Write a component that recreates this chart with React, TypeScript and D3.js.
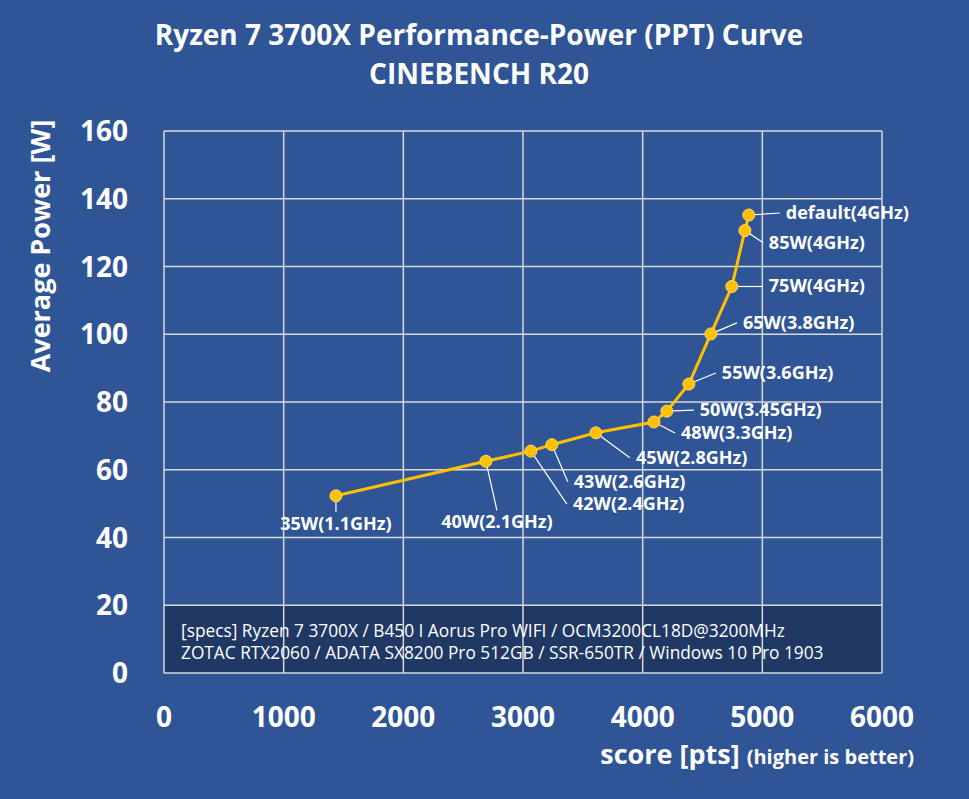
import React from 'react';
import * as d3 from 'd3';

const labels = ['35W(1.1GHz)', '40W(2.1GHz)', '42W(2.4GHz)', '43W(2.6GHz)', '45W(2.8GHz)', '48W(3.3GHz)', '50W(3.45GHz)', '55W(3.6GHz)', '65W(3.8GHz)', '75W(4GHz)', '85W(4GHz)', 'default(4GHz)'];
const scores = [1437, 2690, 3066, 3241, 3609, 4094, 4202, 4386, 4570, 4745, 4854, 4887];
const power = [52.3, 62.5, 65.5, 67.4, 70.9, 74.1, 77.3, 85.3, 100.1, 114.1, 130.6, 135.2];
const xTicks = [0, 1000, 2000, 3000, 4000, 5000, 6000];
const yTicks = [0, 20, 40, 60, 80, 100, 120, 140, 160];
// label placement relative to point: [dx end of leader, dy end, text anchor]
const labelOffsets: [number, number, string][] = [
  [0, 16, 'middle'], [11, 49, 'middle'], [36, 53, 'start'], [16, 37, 'start'],
  [34, 25, 'start'], [21, 11, 'start'], [27, -1, 'start'], [27, -11, 'start'],
  [26, -11, 'start'], [31, 0, 'start'], [18, 12, 'start'], [31, -2, 'start'],
];

export default function App() {
  const W = 969, H = 799;
  const m = { left: 164, right: 882, top: 131, bottom: 673 };
  const x = d3.scaleLinear().domain([0, 6000]).range([m.left, m.right]);
  const y = d3.scaleLinear().domain([0, 160]).range([m.bottom, m.top]);
  const line = d3.line<number>().x((_, i) => x(scores[i])).y(d => y(d));
  const font = "'Open Sans', 'DejaVu Sans', sans-serif";
  return (
    <svg width={W} height={H} style={{ position: 'absolute', left: 0, top: 0 }} fontFamily={font}>
      <rect width={W} height={H} fill="#2f5597" />
      <text x={479} y={45} textAnchor="middle" fill="white" fontWeight="bold" fontSize={28}>Ryzen 7 3700X Performance-Power (PPT) Curve</text>
      <text x={479} y={84} textAnchor="middle" fill="white" fontWeight="bold" fontSize={28}>CINEBENCH R20</text>
      <rect x={m.left} y={y(20)} width={m.right - m.left} height={y(0) - y(20)} fill="#203864" />
      {xTicks.map(t => <line key={'x' + t} x1={x(t)} x2={x(t)} y1={m.top} y2={m.bottom} stroke="#d9d9d9" strokeWidth={1.5} />)}
      {yTicks.map(t => <line key={'y' + t} x1={m.left} x2={m.right} y1={y(t)} y2={y(t)} stroke="#d9d9d9" strokeWidth={1.5} />)}
      {xTicks.map(t => <text key={'xl' + t} x={x(t)} y={727} textAnchor="middle" fill="white" fontWeight="bold" fontSize={28}>{t}</text>)}
      {yTicks.map(t => <text key={'yl' + t} x={128} y={y(t) + 10} textAnchor="end" fill="white" fontWeight="bold" fontSize={28}>{t}</text>)}
      <text transform="translate(50,246) rotate(-90)" textAnchor="middle" fill="white" fontWeight="bold" fontSize={27}>Average Power [W]</text>
      <text x={914} y={764} textAnchor="end" fill="white" fontWeight="bold">
        <tspan fontSize={27}>score [pts] </tspan><tspan fontSize={20}>(higher is better)</tspan>
      </text>
      <text x={181} y={637} fill="white" fontSize={17.3}>[specs] Ryzen 7 3700X / B450 I Aorus Pro WIFI / OCM3200CL18D@3200MHz</text>
      <text x={181} y={659} fill="white" fontSize={17.3}>ZOTAC RTX2060 / ADATA SX8200 Pro 512GB / SSR-650TR / Windows 10 Pro 1903</text>
      <path d={line(power) ?? ''} fill="none" stroke="#ffc000" strokeWidth={3} />
      {power.map((p, i) => {
        const px = x(scores[i]), py = y(p);
        const [dx, dy, anchor] = labelOffsets[i];
        const tx = anchor === 'middle' ? px + dx : px + dx + 6;
        const ty = anchor === 'middle' ? py + dy + 18 : py + dy + 6;
        return (
          <g key={labels[i]}>
            <line x1={px} y1={py} x2={px + dx} y2={py + dy} stroke="white" strokeWidth={1.2} />
            <text x={tx} y={ty} textAnchor={anchor} fill="white" fontWeight="bold" fontSize={18}>{labels[i]}</text>
          </g>
        );
      })}
      {power.map((p, i) => <circle key={'c' + i} cx={x(scores[i])} cy={y(p)} r={6} fill="#ffc000" stroke="#ffd966" strokeWidth={1} />)}
    </svg>
  );
}
